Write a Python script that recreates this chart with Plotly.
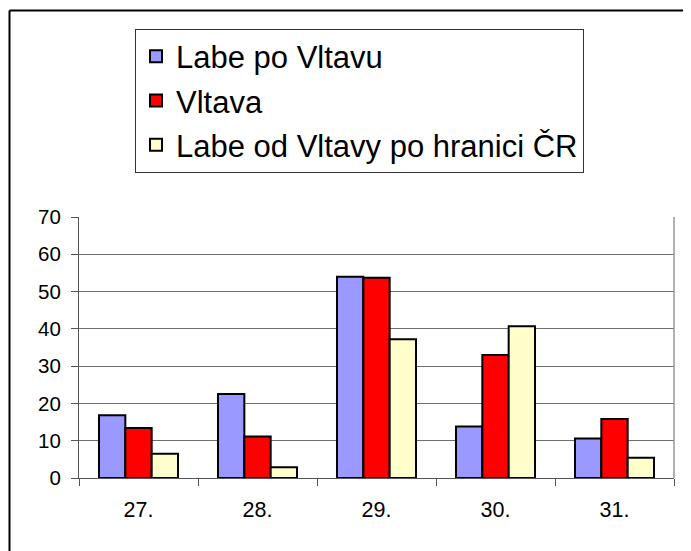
import plotly.graph_objects as go

categories = ["27.", "28.", "29.", "30.", "31."]
labe_po_vltavu = [16.8, 22.5, 54.0, 13.8, 10.6]
vltava = [13.4, 11.1, 53.7, 33.0, 15.8]
labe_od_vltavy = [6.5, 2.9, 37.2, 40.7, 5.4]

series_names = ["Labe po Vltavu", "Vltava", "Labe od Vltavy po hranici ČR"]
series_values = [labe_po_vltavu, vltava, labe_od_vltavy]
series_colors = ["#9999FF", "#FF0000", "#FFFFCC"]

FONT = "Liberation Sans, Arial, sans-serif"

fig = go.Figure()
for name, vals, col in zip(series_names, series_values, series_colors):
    fig.add_trace(go.Bar(
        x=categories, y=vals, name=name, legendgroup=name,
        marker=dict(color=col, line=dict(color="black", width=2)),
    ))

# page body has an 8px margin, so the figure starts at (8, 8) in the window
OFF = 8
W, H = 691 - OFF, 551 - OFF
L, R, T, B = 71, 17, 209, 73
pw, ph = W - L - R, H - T - B

def px_x(p):
    return (p - OFF - L) / pw

def px_y(p):
    return (H - B - (p - OFF)) / ph

fig.update_layout(
    width=W, height=H,
    margin=dict(l=L, r=R, t=T, b=B),
    paper_bgcolor="white", plot_bgcolor="white",
    font=dict(family=FONT, color="black"),
    barmode="group", bargap=0.336, bargroupgap=0,
    showlegend=True,
    legend=dict(
        x=px_x(135), y=px_y(28.5), xanchor="left", yanchor="top",
        bgcolor="white", bordercolor="#333333", borderwidth=1,
        font=dict(size=31, family=FONT, color="black"),
        traceorder="grouped", tracegroupgap=1,
    ),
    xaxis=dict(
        showgrid=False, showline=True, linecolor="#555555", linewidth=1,
        ticks="outside", ticklen=7, tickcolor="#555555", tickson="boundaries",
        tickfont=dict(size=21.5, family=FONT, color="black"),
        ticklabelstandoff=12,
    ),
    yaxis=dict(
        range=[0, 70], dtick=10, tick0=0,
        showgrid=True, gridcolor="#6e6e6e", gridwidth=1,
        showline=True, linecolor="#555555", linewidth=1,
        ticks="outside", ticklen=7, tickcolor="#555555",
        tickfont=dict(size=20.5, family=FONT, color="black"),
        ticklabelstandoff=6, zeroline=False,
    ),
    shapes=[
        dict(type="line", xref="paper", yref="paper", x0=1, x1=1, y0=0, y1=1,
             line=dict(color="#999999", width=1.5)),
        dict(type="line", xref="paper", yref="paper", x0=px_x(9.5), x1=px_x(720),
             y0=px_y(10.5), y1=px_y(10.5), line=dict(color="black", width=2)),
        dict(type="line", xref="paper", yref="paper", x0=px_x(9.5), x1=px_x(9.5),
             y0=px_y(10.5), y1=px_y(580), line=dict(color="black", width=2)),
    ],
)

fig.write_html("out.html")
